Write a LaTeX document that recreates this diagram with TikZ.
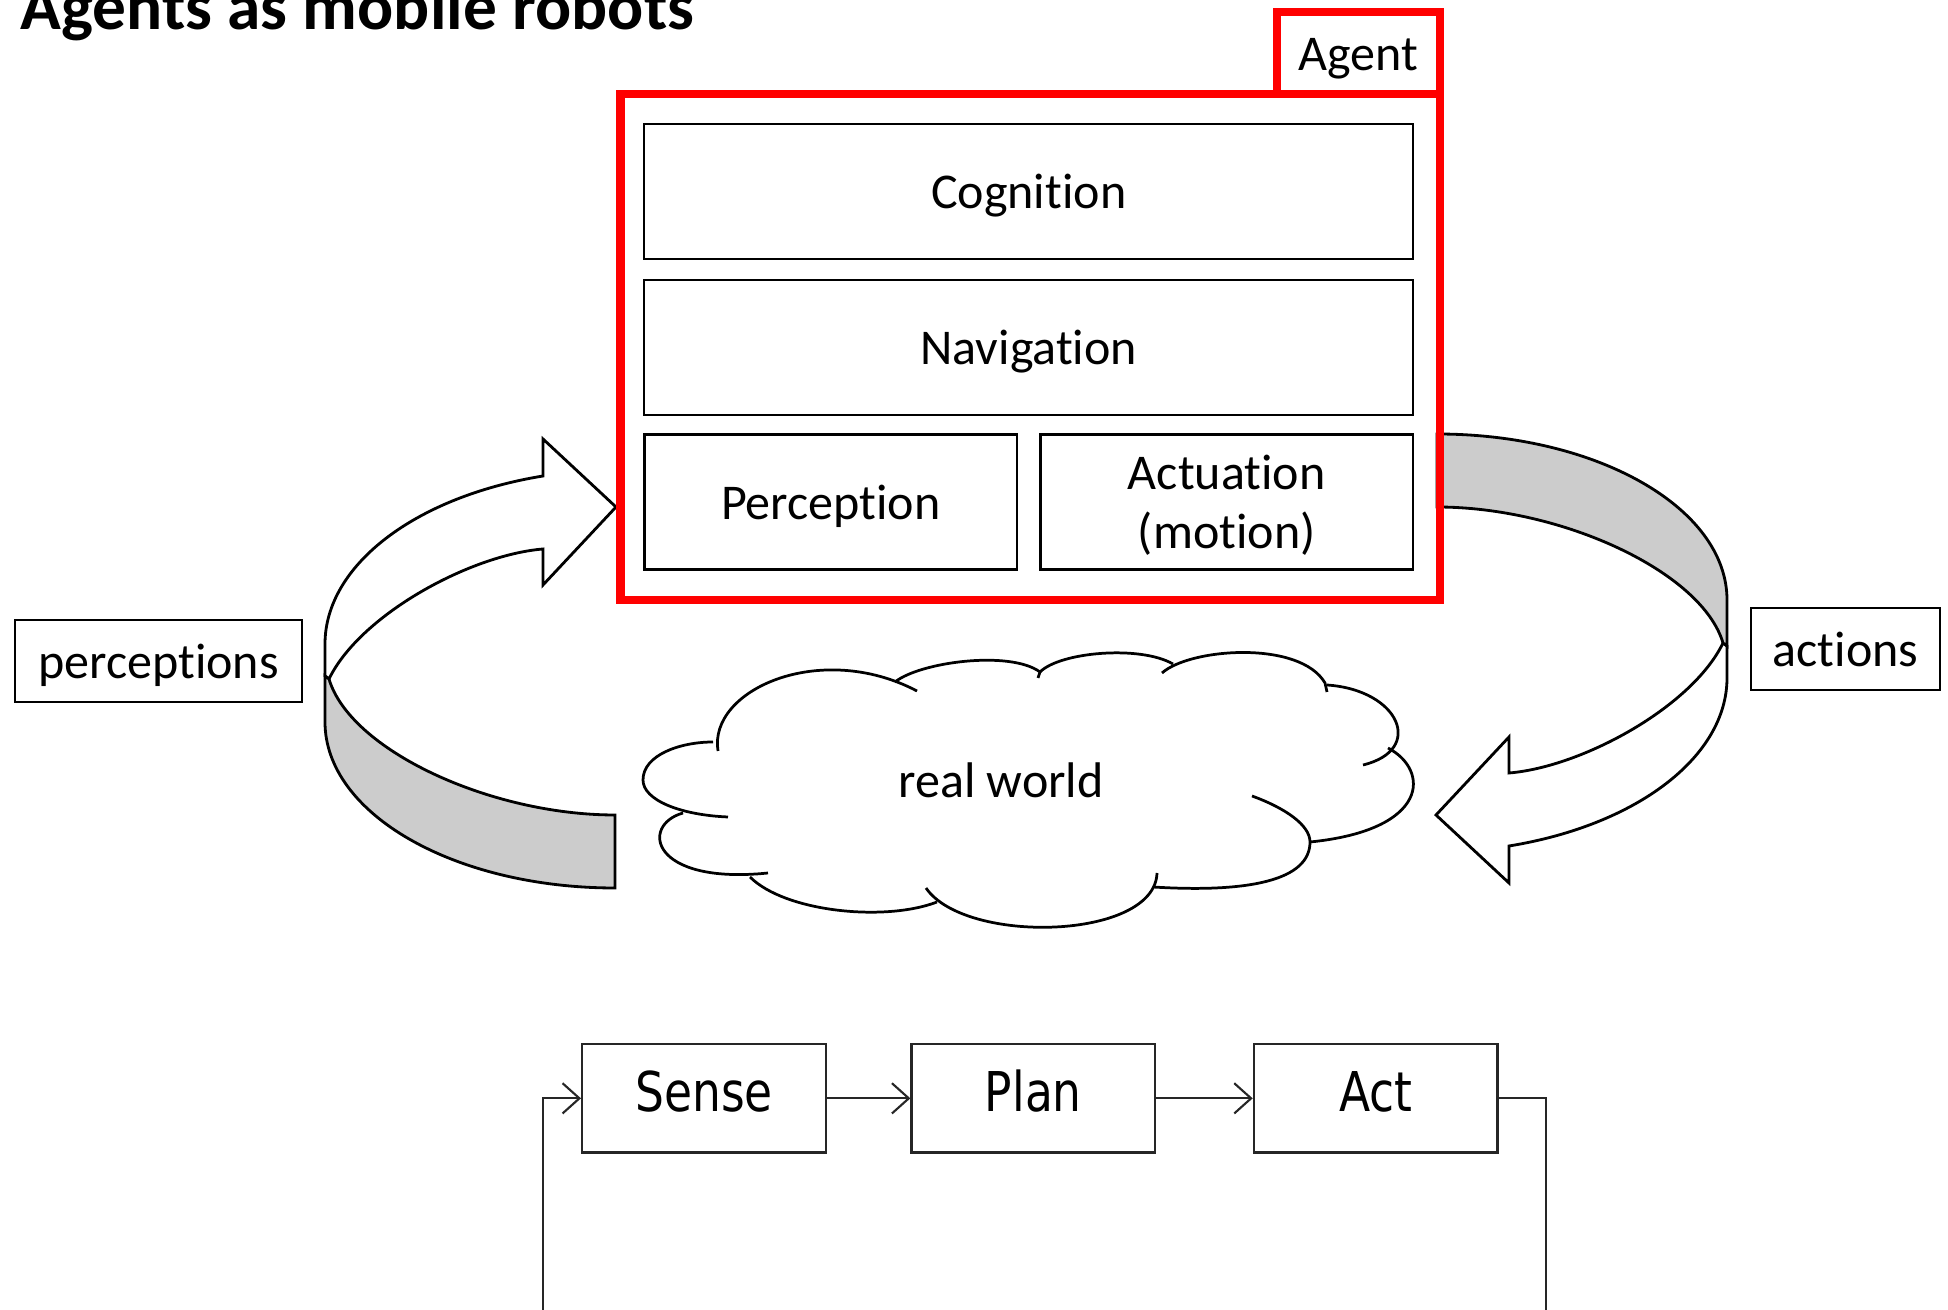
\documentclass[tikz,border=0pt]{standalone}
\usepackage{fontspec}
\usepackage{graphicx}
\setmainfont{Carlito}[Ligatures=NoCommon]
\newfontfamily\blockfont{DejaVu Sans}
\usetikzlibrary{arrows.meta}

\newcommand{\labelsize}{\fontsize{14.23pt}{16.8pt}\selectfont}
\newcommand{\stagesize}{\blockfont\fontsize{15.6pt}{18pt}\selectfont}

\tikzset{
  layer/.style={inner sep=0pt, draw=black, line width=0.66pt, font=\labelsize,
    text height=9.68pt, text depth=0pt},
  twoline/.style={inner sep=0pt, font=\labelsize, align=center},
  agentframe/.style={inner sep=0pt, draw=red, line width=2.36pt},
  tag/.style={inner sep=0pt, draw=black, line width=0.66pt, font=\labelsize,
    text height=9.68pt, text depth=0pt},
  ribbon/.style={draw=black, line width=0.8pt, line join=miter},
  cloudline/.style={draw=black, line width=0.78pt},
  stage/.style={inner sep=0pt, draw=black!85, line width=0.7pt, font=\stagesize,
    text height=11.39pt, text depth=3.74pt, minimum height=1.087cm},
  flow/.style={draw=black!85, line width=0.6pt, -{Straight Barb[length=4.8pt,width=8.6pt]}},
  loopline/.style={draw=black!85, line width=0.6pt},
}

% one curved 3-D ribbon arrow: white upper face with head, grey side band
\newcommand{\ribbonarrow}{%
  \filldraw[ribbon, fill=white]
    (543,476) .. controls (414,497) and (325,566) .. (325,644)
    -- (325,676) -- (329,679)
    .. controls (360,615) and (470,555) .. (543,549)
    -- (543,585) -- (616,507) -- (543,439) -- cycle;
  \filldraw[ribbon, fill=black!20]
    (329,679) .. controls (350,750) and (490,815) .. (615,815)
    -- (615,888) .. controls (455,888) and (325,814) .. (325,722)
    -- (325,676) -- cycle;
}

\begin{document}
\begin{tikzpicture}[x=0.01cm, y=-0.01cm]
\useasboundingbox (0,0) rectangle (1948,1310);
\clip (0,0) rectangle (1948,1310);
\fill[white] (0,0) rectangle (1948,1310);

% heading
\node[anchor=base west, inner sep=0pt] (title) at (20,29.3)
  {\resizebox{6.73cm}{!}{\bfseries Agents as mobile robots}};

% perception arrow (left) and action arrow (right, turned half way round)
\ribbonarrow
\begin{scope}[rotate around={180:(1026,661)}]
  \ribbonarrow
\end{scope}

% agent frame with its tab
\node[agentframe, minimum width=8.192cm, minimum height=5.06cm] (agent) at (1030.4,347) {};
\node[agentframe, minimum width=1.63cm, minimum height=0.82cm, font=\labelsize,
  text height=9.68pt, text depth=0pt] (agenttab) at (1358.5,53) {Agent};

% agent layers
\node[layer, minimum width=7.685cm, minimum height=1.353cm] (cognition) at (1028.75,191.65) {Cognition};
\node[layer, minimum width=7.685cm, minimum height=1.35cm] (navigation) at (1028.75,347.5) {Navigation};
\node[layer, minimum width=3.725cm, minimum height=1.35cm] (perception) at (830.75,502) {Perception};
\node[layer, minimum width=3.725cm, minimum height=1.35cm] (actuation) at (1226.75,502) {};
\node[twoline] (actuationtext) at ([yshift=-1.05pt]actuation.center) {Actuation\\(motion)};

% side labels
\node[tag, minimum width=2.87cm, minimum height=0.82cm] (perceptions) at (158.5,661) {perceptions};
\node[tag, minimum width=1.89cm, minimum height=0.817cm] (actions) at (1845.5,649.15) {actions};

% the world as a cloud, bump by bump
\draw[cloudline] (718,751) .. controls (708,690) and (820,640) .. (917,691);
\draw[cloudline] (895,682) .. controls (920,662) and (1010,650) .. (1040,672) -- (1038,678);
\draw[cloudline] (1040,672) .. controls (1060,652) and (1140,645) .. (1173,664);
\draw[cloudline] (1162,673) .. controls (1190,648) and (1300,640) .. (1325,683) -- (1327,692);
\draw[cloudline] (1327,685) .. controls (1400,690) and (1425,750) .. (1363,765);
\draw[cloudline] (1388,748) .. controls (1430,770) and (1430,830) .. (1310,842);
\draw[cloudline] (1252,796) .. controls (1285,808) and (1310,825) .. (1310,842)
  .. controls (1310,880) and (1250,893) .. (1153,887);
\draw[cloudline] (926,888) .. controls (965,945) and (1155,940) .. (1157,873);
\draw[cloudline] (750,877) .. controls (785,912) and (885,922) .. (937,902);
\draw[cloudline] (683,813) .. controls (640,825) and (650,885) .. (768,873);
\draw[cloudline] (728,817) .. controls (680,815) and (643,800) .. (643,780)
  .. controls (643,755) and (680,742) .. (713,742);
\node[inner sep=0pt, font=\labelsize, text height=9.68pt, text depth=0pt]
  (world) at (1001,780) {real world};

% sense-plan-act loop
\node[stage, minimum width=2.437cm] (sense) at (704.15,1098.35) {\scalebox{0.83}[1]{Sense}};
\node[stage, minimum width=2.433cm] (plan) at (1033.35,1098.35) {\scalebox{0.83}[1]{Plan}};
\node[stage, minimum width=2.433cm] (act) at (1375.65,1098.35) {\scalebox{0.83}[1]{Act}};
\coordinate (loopin) at (542.7,1320);
\coordinate (loopout) at (1546,1320);
\draw[flow] (loopin) |- (sense.west);
\draw[flow] (sense) -- (plan);
\draw[flow] (plan) -- (act);
\draw[loopline] (act.east) -| (loopout);
\end{tikzpicture}
\end{document}
